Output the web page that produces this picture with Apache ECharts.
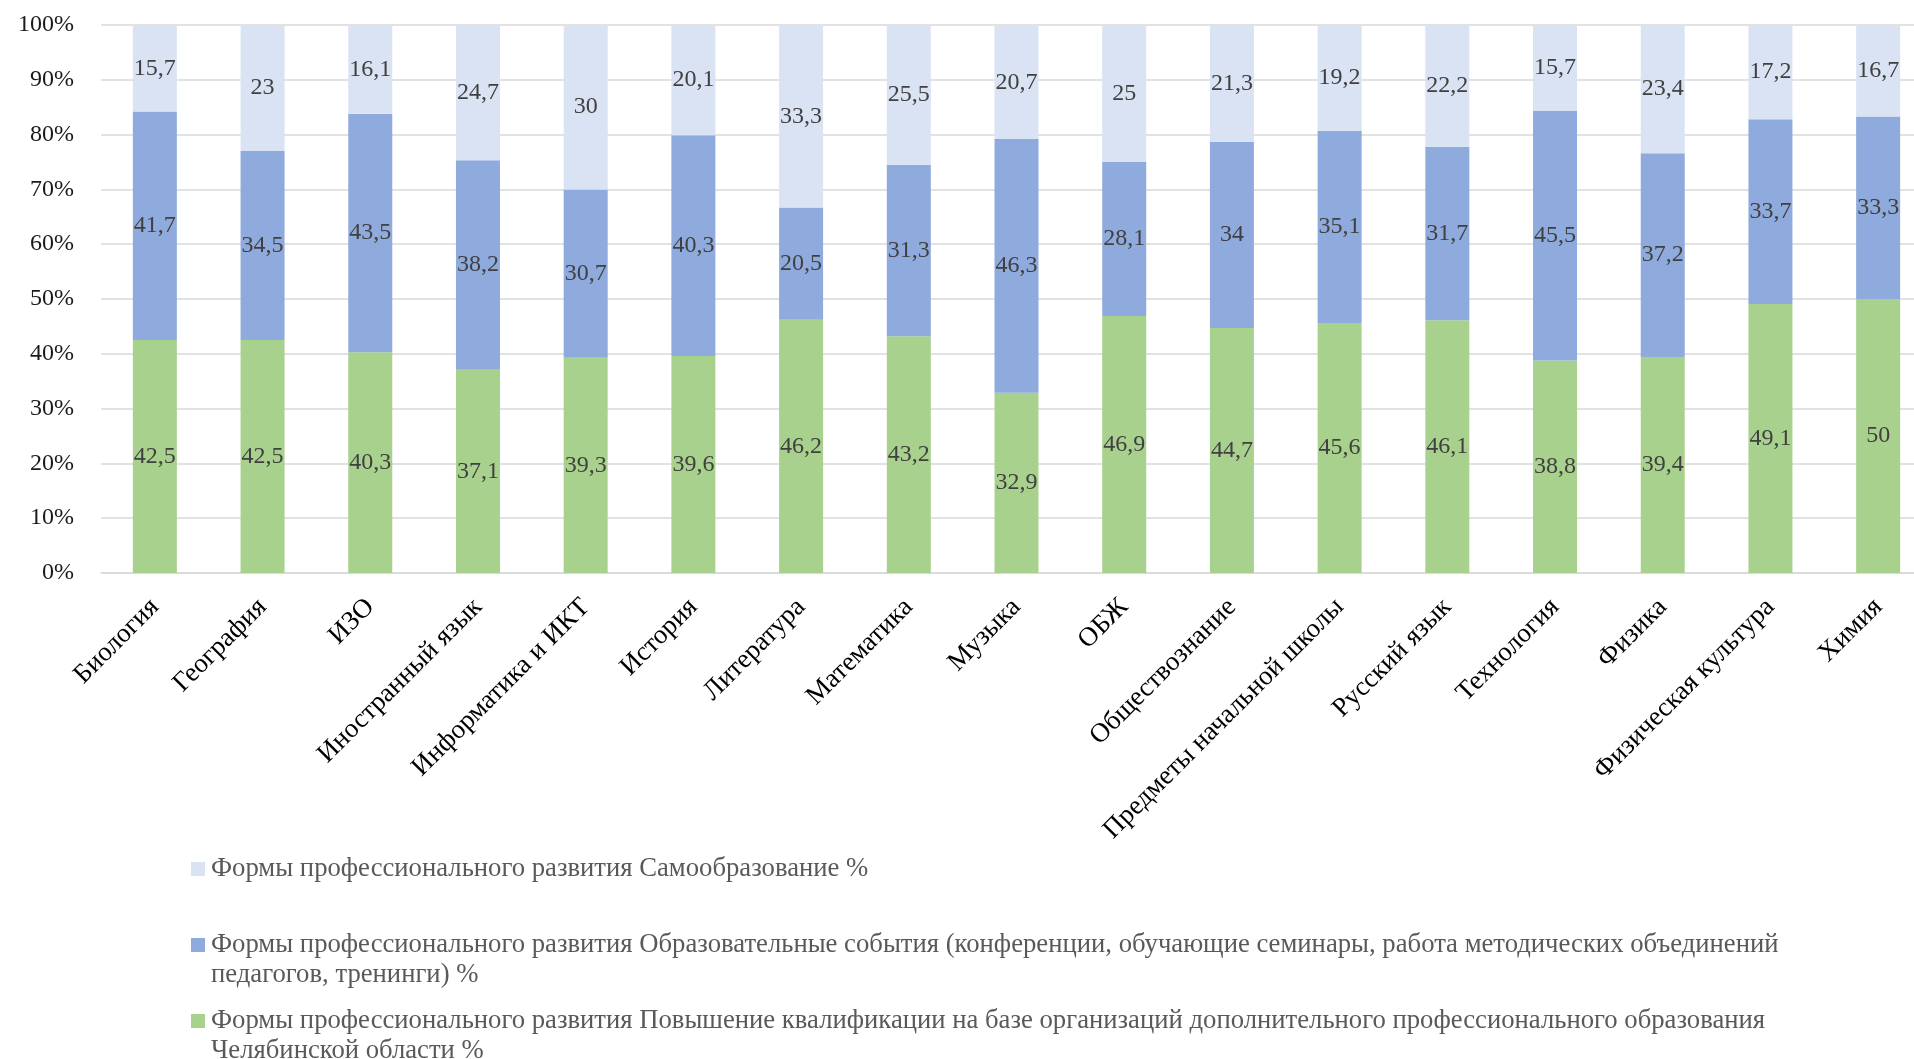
<!DOCTYPE html>
<html>
<head>
<meta charset="utf-8">
<script src="https://cdn.jsdelivr.net/npm/echarts@6/dist/echarts.min.js"></script>
<style>
html,body{margin:0;padding:0;background:#fff;}
#chart{width:1914px;height:1059px;}
</style>
</head>
<body>
<div id="chart"></div>
<script>
const categories = ['Биология','География','ИЗО','Иностранный язык','Информатика и ИКТ','История','Литература','Математика','Музыка','ОБЖ','Обществознание','Предметы начальной школы','Русский язык','Технология','Физика','Физическая культура','Химия'];

const seriesNames = [
  'Формы профессионального развития Повышение квалификации на базе организаций дополнительного профессионального образования Челябинской области %',
  'Формы профессионального развития Образовательные события (конференции, обучающие семинары, работа методических объединений педагогов, тренинги) %',
  'Формы профессионального развития Самообразование %'
];

const qualification = [42.5,42.5,40.3,37.1,39.3,39.6,46.2,43.2,32.9,46.9,44.7,45.6,46.1,38.8,39.4,49.1,50];
const events        = [41.7,34.5,43.5,38.2,30.7,40.3,20.5,31.3,46.3,28.1,34,35.1,31.7,45.5,37.2,33.7,33.3];
const selfEducation = [15.7,23,16.1,24.7,30,20.1,33.3,25.5,20.7,25,21.3,19.2,22.2,15.7,23.4,17.2,16.7];

const yTicks = [0,10,20,30,40,50,60,70,80,90,100];

const colors = ['#A9D18E','#8FAADC','#DAE3F3'];
const FONT = '"Liberation Serif","Times New Roman",serif';

const fmtNum = v => String(v).replace('.', ',');

function makeSeries(name, data, color) {
  return {
    name: name,
    type: 'bar',
    stack: 'total',
    barWidth: 44,
    data: data,
    itemStyle: { color: color },
    label: {
      show: true,
      position: 'inside',
      color: '#404040',
      fontFamily: FONT,
      fontSize: 24,
      formatter: p => fmtNum(p.value)
    },
    emphasis: { disabled: true }
  };
}

function legendFor(name, color, breakWord, top) {
  const rich = {
    m: { width: 14, height: 14, backgroundColor: color },
    s: { width: 14, height: 14 },
    t: { fontFamily: FONT, fontSize: 26.7, color: '#595959', lineHeight: 30, padding: [0,0,0,6] }
  };
  return {
    data: [name],
    left: 186,
    top: top,
    padding: 0,
    orient: 'vertical',
    itemWidth: 0,
    itemHeight: 0,
    icon: 'rect',
    selectedMode: false,
    textStyle: { rich: rich, lineHeight: 30 },
    formatter: function (n) {
      if (breakWord && n.indexOf(' ' + breakWord) > 0) {
        const i = n.indexOf(' ' + breakWord);
        return '{m|}{t|' + n.slice(0, i) + '}\n{s|}{t|' + n.slice(i + 1) + '}';
      }
      return '{m|}{t|' + n + '}';
    }
  };
}

const chart = echarts.init(document.getElementById('chart'), null, { renderer: 'canvas' });
chart.setOption({
  animation: false,
  backgroundColor: '#fff',
  grid: { left: 101, right: -18, top: 25, bottom: 486, containLabel: false, outerBoundsMode: 'none' },
  xAxis: {
    type: 'category',
    data: categories,
    axisLine: { show: true, lineStyle: { color: '#d9d9d9', width: 1.5 } },
    axisTick: { show: false },
    axisLabel: {
      interval: 0,
      rotate: 45,
      margin: 30,
      color: '#000',
      fontFamily: FONT,
      fontSize: 27
    }
  },
  yAxis: {
    type: 'value',
    min: yTicks[0],
    max: yTicks[yTicks.length - 1],
    interval: 10,
    axisLine: { show: false },
    axisTick: { show: false },
    splitLine: { lineStyle: { color: '#d9d9d9', width: 1.5 } },
    axisLabel: {
      margin: 27,
      color: '#1a1a1a',
      fontFamily: FONT,
      fontSize: 24,
      formatter: '{value}%'
    }
  },
  legend: [
    legendFor(seriesNames[2], colors[2], null, 854),
    legendFor(seriesNames[1], colors[1], 'педагогов', 930),
    legendFor(seriesNames[0], colors[0], 'Челябинской', 1006)
  ],
  series: [
    makeSeries(seriesNames[0], qualification, colors[0]),
    makeSeries(seriesNames[1], events, colors[1]),
    makeSeries(seriesNames[2], selfEducation, colors[2])
  ]
});
</script>
</body>
</html>
